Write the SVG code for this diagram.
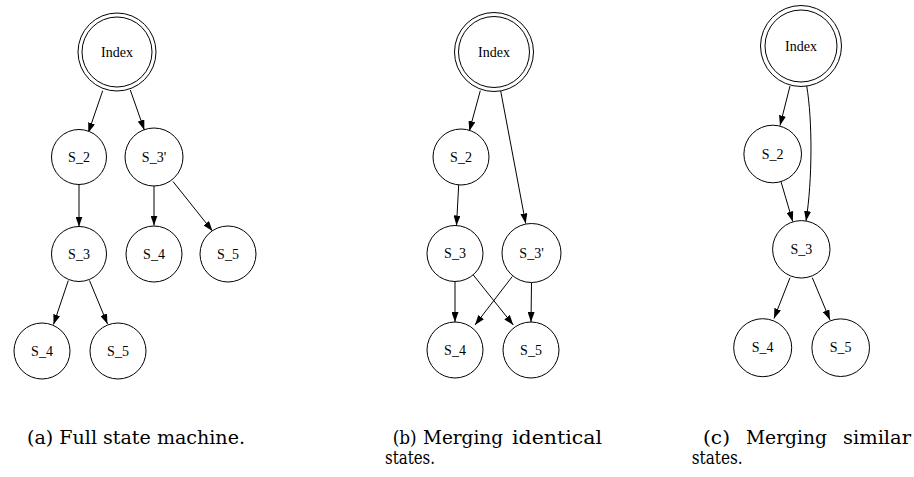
<svg xmlns="http://www.w3.org/2000/svg" width="914" height="477" viewBox="0 0 914 477">
<defs>
<marker id="ah" markerUnits="userSpaceOnUse" markerWidth="10" markerHeight="7" refX="10" refY="3.5" orient="auto">
<path d="M0,0 L10,3.5 L0,7 Z" fill="#000"/>
</marker>
<style>
.n{fill:#fff;stroke:#000;stroke-width:1}
.lb{font-family:"Liberation Serif","Times New Roman",serif;font-size:14px;text-anchor:middle;fill:#000}
.e{fill:none;stroke:#000;stroke-width:1;marker-end:url(#ah)}
.cap{font-family:"DejaVu Serif","Liberation Serif",serif;font-size:18px;fill:#000}
</style>
</defs>
<rect width="914" height="477" fill="#fff"/>

<g id="connectors">
<!-- panel a -->
<path class="e" d="M102.7,90.7 L88.3,132.7"/>
<path class="e" d="M130.3,90 L144.3,130"/>
<path class="e" d="M79,184.5 L79,226.5"/>
<path class="e" d="M154,186 L154,225.5"/>
<path class="e" d="M173,181.5 L212.5,231"/>
<path class="e" d="M68.3,280.5 L53.5,324.5"/>
<path class="e" d="M89.5,280.5 L107.5,324"/>
<!-- panel b -->
<path class="e" d="M480.3,90.7 L469.3,131"/>
<path class="e" d="M500.7,91 L525.7,223.5"/>
<path class="e" d="M458.7,185 L456.5,225.5"/>
<path class="e" d="M455,281.5 L455,322"/>
<path class="e" d="M473.3,275 L513.3,325"/>
<path class="e" d="M512.3,276.5 L475,325"/>
<path class="e" d="M531.5,282.5 L531,322"/>
<!-- panel c -->
<path class="e" d="M790,86 L780,125.5"/>
<path class="e" d="M806.7,86 C812.5,120 812.5,180 806,221"/>
<path class="e" d="M781,181.7 L792.7,221.5"/>
<path class="e" d="M790,277.7 L774,318.5"/>
<path class="e" d="M812.3,277.7 L830,320"/>
</g>

<!-- panel a nodes -->
<g id="a_index"><circle class="n" cx="117" cy="52" r="39"/><circle class="n" cx="117" cy="52" r="35"/><text class="lb" x="117" y="56.5">Index</text></g>
<g id="a_s2"><circle class="n" cx="79" cy="157" r="27.5"/><text class="lb" x="79" y="161.5">S_2</text></g>
<g id="a_s3p"><circle class="n" cx="154" cy="157" r="29"/><text class="lb" x="154" y="161.5">S_3'</text></g>
<g id="a_s3"><circle class="n" cx="79" cy="254" r="27.5"/><text class="lb" x="79" y="258.5">S_3</text></g>
<g id="a_s4r"><circle class="n" cx="154" cy="254" r="28"/><text class="lb" x="154" y="258.5">S_4</text></g>
<g id="a_s5r"><circle class="n" cx="228" cy="254" r="28"/><text class="lb" x="228" y="258.5">S_5</text></g>
<g id="a_s4b"><circle class="n" cx="42" cy="351" r="28"/><text class="lb" x="42" y="355.5">S_4</text></g>
<g id="a_s5b"><circle class="n" cx="118" cy="351" r="28"/><text class="lb" x="118" y="355.5">S_5</text></g>

<!-- panel b nodes -->
<g id="b_index"><circle class="n" cx="494" cy="52" r="39.5"/><circle class="n" cx="494" cy="52" r="35.5"/><text class="lb" x="494" y="56.5">Index</text></g>
<g id="b_s2"><circle class="n" cx="461" cy="157" r="28"/><text class="lb" x="461" y="161.5">S_2</text></g>
<g id="b_s3"><circle class="n" cx="455" cy="253.5" r="28"/><text class="lb" x="455" y="258">S_3</text></g>
<g id="b_s3p"><circle class="n" cx="531.5" cy="253" r="29.5"/><text class="lb" x="531.5" y="257.5">S_3'</text></g>
<g id="b_s4"><circle class="n" cx="455" cy="350" r="28"/><text class="lb" x="455" y="354.5">S_4</text></g>
<g id="b_s5"><circle class="n" cx="531" cy="350" r="28"/><text class="lb" x="531" y="354.5">S_5</text></g>

<!-- panel c nodes -->
<g id="c_index"><circle class="n" cx="801" cy="46" r="40.5"/><circle class="n" cx="801" cy="46" r="36"/><text class="lb" x="801" y="50.5">Index</text></g>
<g id="c_s2"><circle class="n" cx="772.7" cy="154" r="28.8"/><text class="lb" x="772.7" y="158.5">S_2</text></g>
<g id="c_s3"><circle class="n" cx="801.3" cy="249.3" r="28.7"/><text class="lb" x="801.3" y="253.8">S_3</text></g>
<g id="c_s4"><circle class="n" cx="762.7" cy="347.7" r="29"/><text class="lb" x="762.7" y="352.2">S_4</text></g>
<g id="c_s5"><circle class="n" cx="840.7" cy="347.7" r="28.8"/><text class="lb" x="840.7" y="352.2">S_5</text></g>

<g id="captions">
<text class="cap" x="27" y="444" textLength="218" lengthAdjust="spacingAndGlyphs">(a) Full state machine.</text>
<text class="cap" y="444"><tspan x="392.7" textLength="24" lengthAdjust="spacingAndGlyphs">(b)</tspan><tspan x="423" textLength="80" lengthAdjust="spacingAndGlyphs">Merging</tspan><tspan x="512" textLength="90" lengthAdjust="spacingAndGlyphs">identical</tspan></text>
<text class="cap" x="385" y="464" textLength="50" lengthAdjust="spacingAndGlyphs">states.</text>
<text class="cap" y="444"><tspan x="703" textLength="27" lengthAdjust="spacingAndGlyphs">(c)</tspan><tspan x="746" textLength="81" lengthAdjust="spacingAndGlyphs">Merging</tspan><tspan x="843" textLength="68" lengthAdjust="spacingAndGlyphs">similar</tspan></text>
<text class="cap" x="691.7" y="464" textLength="51" lengthAdjust="spacingAndGlyphs">states.</text>
</g>
</svg>
